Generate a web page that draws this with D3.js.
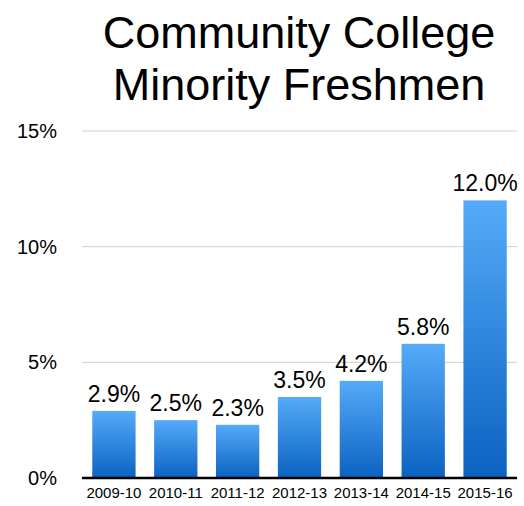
<!DOCTYPE html>
<html>
<head>
<meta charset="utf-8">
<script src="https://cdn.jsdelivr.net/npm/d3@7"></script>
<style>
  body { margin: 0; background: #fff; }
  text { font-family: "Liberation Sans", Arial, Helvetica, sans-serif; fill: #000; }
</style>
</head>
<body>
<svg id="chart" width="524" height="506"></svg>
<script>
// Data
var years = ["2009-10", "2010-11", "2011-12", "2012-13", "2013-14", "2014-15", "2015-16"];
var shares = [2.9, 2.5, 2.3, 3.5, 4.2, 5.8, 12.0];
var yTicks = [0, 5, 10, 15];
var titleLines = ["Community College", "Minority Freshmen"];

var svg = d3.select("#chart");

// Scales
var x = d3.scaleBand()
    .domain(years)
    .range([83, 516])
    .paddingInner(0.3)
    .paddingOuter(0.15);

var y = d3.scaleLinear()
    .domain([0, 15])
    .range([478, 131]);

// Gradient for bars
var grad = svg.append("defs").append("linearGradient")
    .attr("id", "barGrad")
    .attr("x1", 0).attr("y1", 0)
    .attr("x2", 0).attr("y2", 1);
grad.append("stop").attr("offset", "0%").attr("stop-color", "#55aaf9");
grad.append("stop").attr("offset", "100%").attr("stop-color", "#0b62c1");

// Title
svg.append("g").selectAll("text")
    .data(titleLines)
    .enter().append("text")
    .attr("x", 299)
    .attr("y", function (d, i) { return 48 + i * 52; })
    .attr("text-anchor", "middle")
    .style("font-size", "45px")
    .text(function (d) { return d; });

// Grid lines + y labels
var grid = svg.append("g");
grid.selectAll("line")
    .data(yTicks.filter(function (d) { return d > 0; }))
    .enter().append("line")
    .attr("x1", 82).attr("x2", 517)
    .attr("y1", function (d) { return y(d); })
    .attr("y2", function (d) { return y(d); })
    .attr("stroke", "#cfcfcf")
    .attr("stroke-width", 1);

grid.selectAll("text")
    .data(yTicks)
    .enter().append("text")
    .attr("x", 57)
    .attr("y", function (d) { return y(d) + 7; })
    .attr("text-anchor", "end")
    .style("font-size", "20px")
    .text(function (d) { return d + "%"; });

// Bars
svg.append("g").selectAll("rect")
    .data(shares)
    .enter().append("rect")
    .attr("x", function (d, i) { return x(years[i]); })
    .attr("width", x.bandwidth())
    .attr("y", function (d) { return y(d); })
    .attr("height", function (d) { return y(0) - y(d); })
    .attr("fill", "url(#barGrad)");

// Value labels
svg.append("g").selectAll("text")
    .data(shares)
    .enter().append("text")
    .attr("x", function (d, i) { return x(years[i]) + x.bandwidth() / 2; })
    .attr("y", function (d) { return y(d) - 9; })
    .attr("text-anchor", "middle")
    .style("font-size", "23px")
    .text(function (d) { return d.toFixed(1) + "%"; });

// Baseline
svg.append("line")
    .attr("x1", 82).attr("x2", 517)
    .attr("y1", y(0)).attr("y2", y(0))
    .attr("stroke", "#000")
    .attr("stroke-width", 2.5);

// Category labels
svg.append("g").selectAll("text")
    .data(years)
    .enter().append("text")
    .attr("x", function (d) { return x(d) + x.bandwidth() / 2; })
    .attr("y", 498)
    .attr("text-anchor", "middle")
    .style("font-size", "15px")
    .text(function (d) { return d; });
</script>
</body>
</html>
